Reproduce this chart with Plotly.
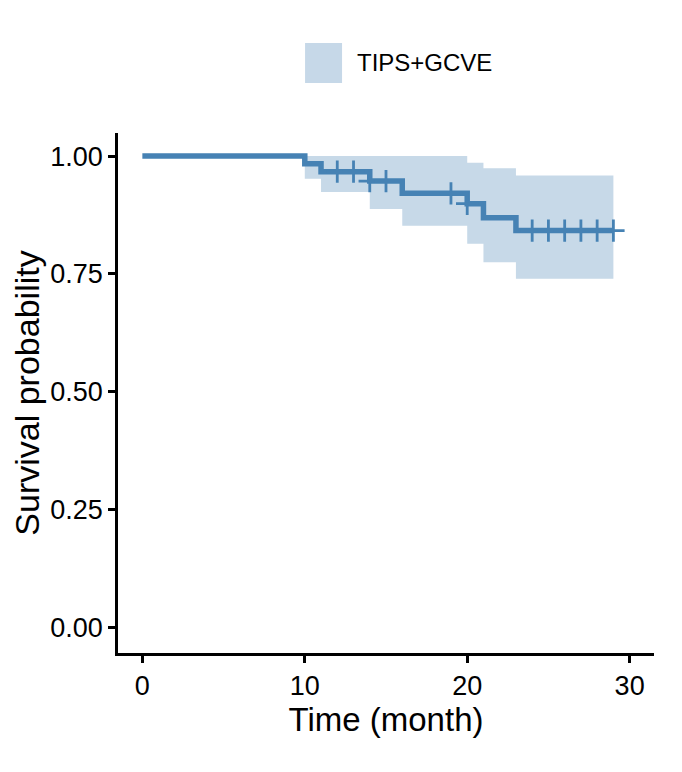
import plotly.graph_objects as go

# Kaplan-Meier estimate
time = [0, 10, 11, 14, 16, 20, 21, 23, 29]
surv = [1.0, 0.984, 0.967, 0.947, 0.921, 0.899, 0.869, 0.842, 0.842]
upper = [1.0, 1.0, 1.0, 1.0, 1.0, 0.986, 0.974, 0.959, 0.959]
lower = [1.0, 0.952, 0.924, 0.888, 0.852, 0.814, 0.775, 0.740, 0.740]
censor_time = [12, 13, 14, 15, 19, 20, 24, 25, 26, 27, 28, 29]
group = "TIPS+GCVE"
x_ticks = [0, 10, 20, 30]
y_ticks = [0.0, 0.25, 0.5, 0.75, 1.0]
y_ticklabels = ["0.00", "0.25", "0.50", "0.75", "1.00"]


def surv_at(t):
    s = surv[0]
    for ti, si in zip(time, surv):
        if ti <= t:
            s = si
    return s


censor_surv = [surv_at(t) for t in censor_time]

LINE = "#4682B4"
BAND = "rgba(70,130,180,0.30)"
FONT = "Arial, Liberation Sans, sans-serif"

fig = go.Figure()
fig.add_trace(go.Scatter(x=time, y=lower, mode="lines", line=dict(width=0, shape="hv"),
                         hoverinfo="skip", showlegend=False))
fig.add_trace(go.Scatter(x=time, y=upper, mode="lines", line=dict(width=0, shape="hv"),
                         fill="tonexty", fillcolor=BAND, hoverinfo="skip", showlegend=False))
fig.add_trace(go.Scatter(x=time, y=surv, mode="lines", line=dict(color=LINE, width=5.5, shape="hv"),
                         name=group, showlegend=False))
fig.add_trace(go.Scatter(x=censor_time, y=censor_surv, mode="markers",
                         marker=dict(symbol="cross-thin-open", size=16, color=LINE,
                                     line=dict(color=LINE, width=2.8)),
                         showlegend=False))

# legend drawn in paper space
fig.add_shape(type="rect", xref="paper", yref="paper", x0=0.349, x1=0.418, y0=1.096, y1=1.173,
              fillcolor="rgb(198,216,232)", line=dict(width=0))
fig.add_annotation(text=group, xref="paper", yref="paper", x=0.442, y=1.135,
                   xanchor="left", yanchor="middle", showarrow=False,
                   font=dict(family=FONT, size=24, color="black"))

axis_common = dict(showline=True, linecolor="black", linewidth=2.5, ticks="outside",
                   ticklen=7, tickwidth=2.5, tickcolor="black", showgrid=False, zeroline=False,
                   tickfont=dict(family=FONT, size=27, color="black"))
fig.update_xaxes(range=[-1.5, 31.5], tickvals=x_ticks,
                 title=dict(text="Time (month)", font=dict(family=FONT, size=33, color="black"),
                            standoff=6),
                 **axis_common)
fig.update_yaxes(range=[-0.054, 1.049], tickvals=y_ticks, ticktext=y_ticklabels,
                 title=dict(text="Survival probability", font=dict(family=FONT, size=34, color="black"),
                            standoff=10),
                 **axis_common)
fig.update_layout(width=674, height=764, margin=dict(l=110, r=28, t=125, b=119, autoexpand=False),
                  plot_bgcolor="white", paper_bgcolor="white", showlegend=False)

fig.write_html("out.html")
